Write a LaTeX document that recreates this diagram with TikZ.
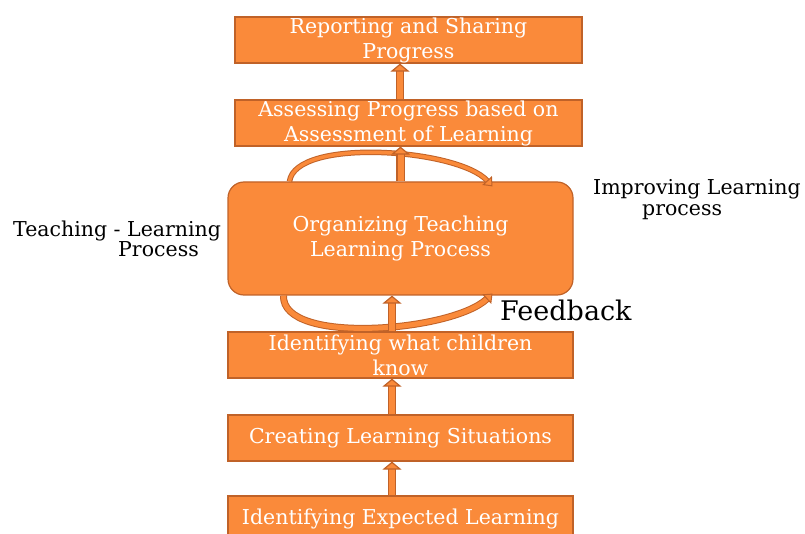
\documentclass[tikz,border=0pt]{standalone}
\usepackage{fontspec}
\setmainfont{DejaVu Serif}
\usetikzlibrary{arrows.meta,calc}
\definecolor{orfill}{RGB}{250,138,58}
\definecolor{ordark}{RGB}{192,98,40}
\tikzset{
  boxst/.style={draw=ordark, line width=1.2pt, fill=orfill, text=white, minimum width=345pt, minimum height=46pt, inner sep=0pt, align=center, font=\fontsize{20.5}{25}\selectfont},
  lbl/.style={inner sep=0pt, anchor=base west, font=\fontsize{20.5}{22}\selectfont},
  uparrow/.style={line width=1.2pt, draw=ordark, double=orfill, double distance=6pt, -{Triangle[length=8pt,width=19pt,fill=orfill]}},
  curvarrow/.style={line width=1pt, draw=ordark, double=orfill, double distance=3.5pt, -{Triangle[length=8pt,width=13pt,fill=orfill]}}
}
\begin{document}
\begin{tikzpicture}[x=1pt,y=-1pt]
\useasboundingbox (0,0) rectangle (805,534);
\node[boxst, minimum width=347pt] (r1) at (408.5,40) {Reporting and Sharing\\Progress};
\node[boxst, minimum width=347pt] (r2) at (408.5,123) {Assessing Progress based on\\Assessment of Learning};
\node[boxst, minimum height=113pt, rounded corners=16pt] (org) at (400.5,238.5) {Organizing Teaching\\Learning Process};
\node[boxst] (k) at (400.5,355) {Identifying what children\\know};
\node[boxst] (c) at (400.5,438) {Creating Learning Situations};
\node[boxst] (e) at (400.5,519) {Identifying Expected Learning};
% feedback loops
\draw[curvarrow] ([xshift=-111pt]org.north) .. controls +(6,-44) and +(-35,-38) .. ([xshift=92pt,yshift=-5pt]org.north);
\draw[curvarrow, double distance=5pt] ([xshift=-117pt]org.south) .. controls +(-2,50) and +(-40,38) .. ([xshift=92pt,yshift=2pt]org.south);
% vertical arrows
\draw[uparrow] ([xshift=-8.5pt]r2.north) -- ([xshift=-8.5pt]r1.south);
\draw[uparrow] (org.north) -- ([xshift=-8pt]r2.south);
\draw[uparrow] ([xshift=-8.5pt]k.north) -- ([xshift=-8.5pt]org.south);
\draw[uparrow] ([xshift=-8.5pt]c.north) -- ([xshift=-8.5pt]k.south);
\draw[uparrow] ([xshift=-8.5pt]e.north) -- ([xshift=-8.5pt]c.south);
% labels
\node[lbl] (tl1) at (13,237) {Teaching - Learning};
\node[lbl] (tl2) at (118,257) {Process};
\node[lbl] (il1) at (593,195) {Improving Learning};
\node[lbl] (il2) at (642,216) {process};
\node[lbl, font=\fontsize{27}{30}\selectfont] (fb) at (500,320) {Feedback};
\end{tikzpicture}
\end{document}
